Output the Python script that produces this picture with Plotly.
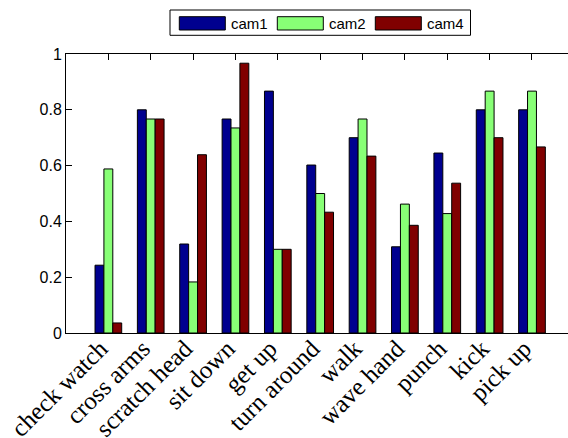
import plotly.graph_objects as go

# Recognition rate per action for each camera view
actions = ["check watch", "cross arms", "scratch head", "sit down", "get up",
           "turn around", "walk", "wave hand", "punch", "kick", "pick up"]
series_names = ["cam1", "cam2", "cam4"]
cam1 = [0.243, 0.800, 0.319, 0.767, 0.867, 0.602, 0.700, 0.309, 0.645, 0.800, 0.800]
cam2 = [0.588, 0.767, 0.183, 0.735, 0.300, 0.500, 0.767, 0.462, 0.428, 0.867, 0.867]
cam4 = [0.036, 0.767, 0.639, 0.967, 0.300, 0.433, 0.634, 0.386, 0.537, 0.700, 0.667]
y_ticks = [0, 0.2, 0.4, 0.6, 0.8, 1]
y_tick_text = ["0", "0.2", "0.4", "0.6", "0.8", "1"]

colors = ["#00008F", "#88FF76", "#800000"]

W, H = 568, 438
ML, MR, MT, MB = 66, 0, 54, 105
plot_w = W - ML - MR
plot_h = H - MT - MB

fig = go.Figure()
for name, vals, col in zip(series_names, [cam1, cam2, cam4], colors):
    fig.add_trace(go.Bar(
        x=actions, y=vals, name=name,
        marker=dict(color=col, line=dict(color="black", width=1)),
        showlegend=False,
    ))

# Legend box above the axes, drawn in pixel units converted to paper coords
def px(x):
    return (x - ML) / plot_w

def py(y):
    return (H - MB - y) / plot_h

shapes = [dict(type="rect", xref="paper", yref="paper",
               x0=px(170), x1=px(470.5), y0=py(35.3), y1=py(10),
               line=dict(color="black", width=1), fillcolor="white")]
annotations = []
swatch_left = [179.3, 277.3, 375.3]
for name, col, sx in zip(series_names, colors, swatch_left):
    shapes.append(dict(type="rect", xref="paper", yref="paper",
                       x0=px(sx), x1=px(sx + 46), y0=py(30), y1=py(16.7),
                       line=dict(color="black", width=1), fillcolor=col))
    annotations.append(dict(xref="paper", yref="paper", x=px(sx + 50), y=py(23.3),
                            text=name, showarrow=False, xanchor="left", yanchor="middle",
                            font=dict(family="Liberation Sans, Arial", size=15, color="black")))

fig.update_layout(
    width=W, height=H,
    margin=dict(l=ML, r=MR, t=MT, b=MB, pad=0),
    paper_bgcolor="white", plot_bgcolor="white",
    barmode="group", bargap=0.37, bargroupgap=0,
    shapes=shapes, annotations=annotations,
    xaxis=dict(
        range=[-1, 10.85], showgrid=False, showline=True, linecolor="black",
        linewidth=1, mirror="ticks", ticks="inside", ticklen=6, tickcolor="black",
        tickangle=-45, layer="below traces", automargin=False,
        ticklabelstandoff=-10, ticklabelshift=-8,
        tickfont=dict(family="Liberation Serif, Times New Roman", size=25, color="black"),
    ),
    yaxis=dict(
        range=[0, 1], showgrid=False, zeroline=False, showline=True, linecolor="black",
        linewidth=1, mirror=False, ticks="inside", ticklen=6, tickcolor="black",
        tickvals=y_ticks, ticktext=y_tick_text, layer="below traces", automargin=False,
        tickfont=dict(family="Liberation Sans, Arial", size=16, color="black"),
    ),
)

fig.write_html("out.html")
